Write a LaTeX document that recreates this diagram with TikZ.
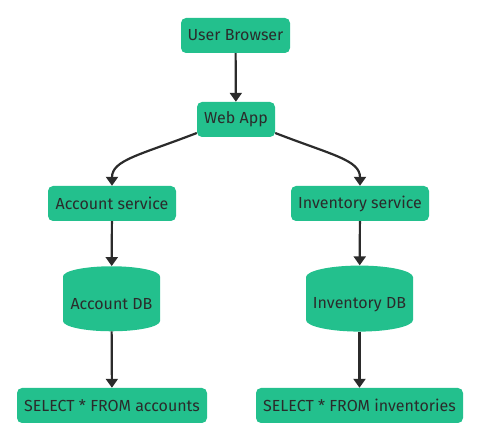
\documentclass[tikz,border=0pt]{standalone}
\usepackage{fontspec}
\setmainfont{Fira Sans}
\usepackage{tikz}
\usetikzlibrary{arrows.meta,shapes.geometric}
\definecolor{fillg}{HTML}{23C08D}
\definecolor{ink}{HTML}{2B2B2B}
\tikzset{
  box/.style={fill=fillg, rounded corners=5pt, text=ink, font=\fontsize{16}{19}\selectfont, minimum height=35pt, inner sep=0pt},
  db/.style={cylinder, shape border rotate=90, aspect=0.25, fill=fillg, text=ink, font=\fontsize{16}{19}\selectfont, inner sep=0pt},
  link/.style={draw=ink, line width=2.2pt, -{Triangle[length=9pt,width=12pt]}},
}
\begin{document}
\begin{tikzpicture}[x=1pt,y=-1pt]
  \useasboundingbox (0,0) rectangle (480,438);
  \node[box, minimum width=109pt] (ub) at (235.5,35.5) {User Browser};
  \node[box, minimum width=78pt] (web) at (236,119.5) {Web App};
  \node[box, minimum width=128pt] (acs) at (112,203.5) {Account service};
  \node[box, minimum width=138pt] (ivs) at (360,203.5) {Inventory service};
  \node[db, minimum width=97pt, minimum height=65pt] (adb) at (111.5,304) {Account DB};
  \node[db, minimum width=107pt, minimum height=66pt] (idb) at (359.5,304.5) {Inventory DB};
  \node[box, minimum width=190pt] (aq) at (112,405.5) {SELECT * FROM accounts};
  \node[box, minimum width=207pt] (iq) at (359.5,405.5) {SELECT * FROM inventories};

  \draw[link] (ub) -- (web);
  \draw[link] (web.199) .. controls (140,155) and (112,160) .. (acs.north);
  \draw[link] (web.341) .. controls (332,155) and (360,160) .. (ivs.north);
  \draw[link] (acs) -- (adb);
  \draw[link] (ivs) -- (idb);
  \draw[link] (adb) -- (aq);
  \draw[link] (idb) -- (iq);
\end{tikzpicture}
\end{document}
